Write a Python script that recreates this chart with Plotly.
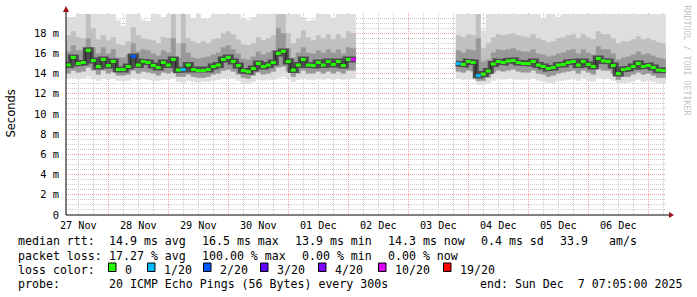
import plotly.graph_objects as go
import pandas as pd

# ---------------- data ----------------
SEG_STARTS = ["2025-11-27 08:00", "2025-12-03 20:00"]   # first sample of each segment
STEP_HOURS = 2
X_RANGE = ["2025-11-27 07:05", "2025-12-07 07:05"]
X_TICK_DATES = ["2025-11-27 12:00", "2025-11-28 12:00", "2025-11-29 12:00", "2025-11-30 12:00",
                "2025-12-01 12:00", "2025-12-02 12:00", "2025-12-03 12:00", "2025-12-04 12:00",
                "2025-12-05 12:00", "2025-12-06 12:00"]
X_TICK_LABELS = ["27 Nov", "28 Nov", "29 Nov", "30 Nov", "01 Dec", "02 Dec", "03 Dec",
                 "04 Dec", "05 Dec", "06 Dec"]

median_1 = [14.85, 15.6, 15.0, 15.1, 16.3, 15.3, 14.7, 15.4, 14.8, 15.2,
            14.4, 14.4, 14.7, 15.7, 14.85, 15.2, 15.1, 14.8, 14.6, 15.1,
            14.85, 15.4, 14.35, 14.4, 14.85, 14.4, 14.3, 14.3, 14.4, 14.7,
            14.85, 15.4, 15.6, 15.2, 14.8, 14.3, 14.2, 14.5, 15.0, 14.7,
            14.85, 15.1, 16.0, 16.2, 15.2, 14.35, 14.85, 15.4, 14.85, 14.8,
            15.1, 14.85, 15.2, 14.9, 15.2, 14.8, 15.4, 15.4]
loss_1 = [0] * 13 + [2] + [0] * 9 + [1] + [0] * 33 + [10]
max_1 = [19.6, 19.6, 19.9, 19.9, 19.9, 19.9, 19.9, 19.9, 19.9, 19.9,
         19.3, 18.7, 19.9, 19.9, 19.9, 19.3, 19.2, 19.9, 19.9, 19.6,
         19.9, 19.9, 19.9, 19.9, 19.9, 19.5, 19.9, 19.4, 19.4, 19.9,
         19.9, 19.9, 19.9, 19.9, 19.9, 19.4, 19.3, 19.6, 19.9, 19.9,
         19.9, 19.9, 19.9, 19.9, 19.9, 19.9, 19.9, 19.6, 19.2, 19.3,
         19.9, 19.9, 19.9, 19.5, 19.9, 19.9, 19.9, 19.9]
p90_1 = [17.8, 18.2, 17.6, 17.5, 19.9, 18.5, 17.4, 17.8, 17.3, 17.6,
         16.9, 16.8, 17.2, 18.6, 17.8, 17.5, 17.4, 17.3, 17.0, 17.6,
         17.5, 19.9, 17.0, 19.9, 17.5, 17.2, 17.0, 17.2, 17.0, 17.4,
         17.5, 18.0, 18.2, 17.9, 17.4, 16.9, 16.8, 17.0, 17.6, 17.3,
         17.5, 17.8, 19.9, 19.9, 18.0, 17.0, 17.5, 18.3, 17.6, 17.3,
         17.8, 17.5, 17.9, 17.4, 17.9, 17.5, 18.2, 18.0]
p75_1 = [16.2, 16.8, 16.3, 16.3, 17.5, 16.6, 16.0, 16.6, 16.0, 16.4,
         15.6, 15.6, 15.9, 17.0, 16.2, 16.4, 16.3, 16.0, 15.8, 16.3,
         16.1, 17.5, 15.6, 17.0, 16.1, 15.6, 15.5, 15.6, 15.7, 15.9,
         16.1, 16.6, 16.8, 16.4, 16.0, 15.5, 15.4, 15.7, 16.2, 15.9,
         16.1, 16.3, 18.5, 18.0, 16.5, 15.6, 16.1, 16.6, 16.1, 16.0,
         16.3, 16.1, 16.4, 16.1, 16.4, 16.0, 16.6, 16.5]
p10_1 = [14.0, 14.3, 14.1, 14.2, 14.6, 14.3, 13.9, 14.3, 14.0, 14.2,
         13.8, 13.8, 13.9, 14.3, 14.0, 14.2, 14.1, 14.0, 13.8, 14.1,
         14.0, 14.2, 13.7, 13.7, 13.9, 13.7, 13.6, 13.6, 13.7, 13.9,
         14.0, 14.3, 14.4, 14.2, 13.9, 13.6, 13.5, 13.8, 14.1, 13.9,
         14.0, 14.2, 14.6, 14.7, 14.2, 13.7, 14.0, 14.3, 14.0, 14.0,
         14.2, 14.0, 14.2, 14.0, 14.2, 14.0, 14.3, 14.3]
min_1 = [13.5, 13.6, 13.5, 13.5, 13.7, 13.5, 13.3, 13.5, 13.4, 13.5,
         13.3, 13.3, 13.3, 13.5, 13.4, 13.5, 13.4, 13.3, 13.3, 13.4,
         13.4, 13.5, 13.2, 13.1, 13.3, 13.2, 13.1, 13.2, 13.2, 13.3,
         13.4, 13.5, 13.6, 13.5, 13.3, 13.1, 13.0, 13.2, 13.4, 13.3,
         13.4, 13.4, 13.6, 13.7, 13.5, 13.2, 13.4, 13.5, 13.4, 13.4,
         13.5, 13.4, 13.5, 13.4, 13.5, 13.4, 13.5, 13.5]

median_2 = [15.0, 14.9, 15.2, 15.1, 13.8, 13.95, 14.25, 14.95, 15.2, 15.1,
            15.25, 15.3, 15.1, 15.0, 15.0, 15.2, 14.85, 14.7, 14.5, 14.6,
            14.85, 14.9, 15.1, 15.2, 14.85, 15.2, 14.9, 14.7, 15.5, 15.25,
            15.2, 14.8, 14.0, 14.4, 14.5, 14.7, 15.0, 14.7, 14.8, 14.6,
            14.35, 14.3]
loss_2 = [1, 0, 0, 0, 1] + [0] * 37
max_2 = [19.9, 19.9, 19.9, 19.9, 19.9, 18.3, 19.9, 19.9, 19.9, 19.9,
         19.9, 19.9, 19.9, 19.9, 19.9, 19.9, 19.9, 19.5, 19.9, 19.9,
         19.6, 19.9, 19.9, 19.9, 19.9, 19.9, 19.9, 19.9, 19.9, 19.9,
         19.9, 19.9, 19.9, 19.9, 19.9, 19.9, 19.9, 19.9, 19.9, 19.9,
         19.9, 19.9]
p90_2 = [17.8, 17.6, 17.9, 17.8, 19.9, 16.5, 17.0, 17.6, 17.9, 17.8,
         17.9, 18.0, 17.8, 17.7, 17.6, 17.9, 17.5, 17.3, 17.1, 17.2,
         17.5, 17.6, 17.8, 17.9, 17.5, 17.9, 17.6, 17.4, 18.2, 17.9,
         17.9, 17.5, 17.0, 17.2, 17.2, 17.4, 17.7, 17.4, 17.5, 17.3,
         17.1, 17.0]
p75_2 = [16.3, 16.1, 16.4, 16.3, 17.5, 15.2, 15.4, 16.1, 16.4, 16.3,
         16.4, 16.5, 16.3, 16.2, 16.2, 16.4, 16.0, 15.9, 15.7, 15.8,
         16.0, 16.1, 16.3, 16.4, 16.0, 16.4, 16.1, 15.9, 16.7, 16.4,
         16.4, 16.0, 15.4, 15.6, 15.7, 15.9, 16.2, 15.9, 16.0, 15.8,
         15.6, 15.5]
p10_2 = [14.2, 14.1, 14.3, 14.2, 13.3, 13.3, 13.6, 14.1, 14.3, 14.2,
         14.3, 14.4, 14.2, 14.1, 14.1, 14.3, 14.0, 13.9, 13.7, 13.8,
         14.0, 14.1, 14.2, 14.3, 14.0, 14.3, 14.1, 13.9, 14.5, 14.3,
         14.3, 14.0, 13.4, 13.7, 13.7, 13.9, 14.1, 13.9, 14.0, 13.8,
         13.6, 13.6]
min_2 = [13.5, 13.4, 13.5, 13.4, 12.9, 12.9, 13.0, 13.3, 13.5, 13.4,
         13.5, 13.5, 13.4, 13.4, 13.4, 13.5, 13.3, 13.2, 13.1, 13.1,
         13.3, 13.3, 13.4, 13.5, 13.3, 13.5, 13.3, 13.2, 13.6, 13.5,
         13.5, 13.3, 13.0, 13.1, 13.1, 13.2, 13.4, 13.2, 13.3, 13.2,
         13.1, 13.0]

Y_TICKS = [0, 2, 4, 6, 8, 10, 12, 14, 16, 18]
Y_TICK_TEXT = ["0", "2 m", "4 m", "6 m", "8 m", "10 m", "12 m", "14 m", "16 m", "18 m"]

LOSS_LEVELS = [0, 1, 2, 3, 4, 10, 19]
LOSS_LABELS = ["0", "1/20", "2/20", "3/20", "4/20", "10/20", "19/20"]
LOSS_COLORS = ["#26ff00", "#00b8ff", "#0059ff", "#5e00ff", "#7e00ff", "#dd00ff", "#ff0000"]

STATS = [
    ["median rtt:", "14.9 ms avg", "16.5 ms max", "13.9 ms min", "14.3 ms now", "0.4 ms sd", "33.9", "am/s"],
    ["packet loss:", "17.27 % avg", "100.00 % max", "0.00 % min", "0.00 % now"],
]
PROBE = ["probe:", "20 ICMP Echo Pings (56 Bytes) every 300s", "end: Sun Dec  7 07:05:00 2025"]

# ---------------- layout constants ----------------
W, H = 697, 297
L, R, T, B = 66, 31, 13, 82
PW, PH = W - L - R, H - T - B
MONO = "DejaVu Sans Mono"


def px(xp):
    return (xp - L) / PW


def py(yp):
    return (T + PH - yp) / PH


segments = [
    (SEG_STARTS[0], median_1, loss_1, max_1, p90_1, p75_1, p10_1, min_1),
    (SEG_STARTS[1], median_2, loss_2, max_2, p90_2, p75_2, p10_2, min_2),
]

half = pd.Timedelta(hours=STEP_HOURS / 2)
fig = go.Figure()


def step_coords(times, vals):
    xs, ys = [], []
    for t, v in zip(times, vals):
        xs += [t - half, t + half]
        ys += [v, v]
    return xs, ys


def band(times, lo, hi, color):
    xh, yh = step_coords(times, hi)
    xl, yl = step_coords(times, lo)
    fig.add_trace(go.Scatter(x=xh + xl[::-1], y=yh + yl[::-1], fill="toself",
                             fillcolor=color, line=dict(width=0), mode="lines",
                             hoverinfo="skip", showlegend=False))


for start, med, loss, mx, p90, p75, p10, mn in segments:
    times = list(pd.date_range(start, periods=len(med), freq=f"{STEP_HOURS}h"))
    band(times, mn, mx, "#dedede")
    band(times, p10, p90, "#c0c0c0")
    band(times, p10, p75, "#999999")
    xs, ys = step_coords(times, med)
    fig.add_trace(go.Scatter(x=xs, y=ys, mode="lines", line=dict(color="#4c4c4c", width=6),
                             hoverinfo="skip", showlegend=False))
    fig.add_trace(go.Scatter(x=xs, y=ys, mode="lines", line=dict(color="#202020", width=1),
                             hoverinfo="skip", showlegend=False))
    for lvl, col in zip(LOSS_LEVELS, LOSS_COLORS):
        bx, by = [], []
        for t, v, l in zip(times, med, loss):
            if l == lvl:
                bx += [t - half, t + half, None]
                by += [v, v, None]
        if bx:
            fig.add_trace(go.Scatter(x=bx, y=by, mode="lines", line=dict(color=col, width=3),
                                     hoverinfo="skip", showlegend=False))

# helper trace so the label axis is drawn
fig.add_trace(go.Scatter(x=X_RANGE, y=[None, None], xaxis="x2", yaxis="y", mode="lines",
                         hoverinfo="skip", showlegend=False))

grid_red = "#f2a0a0"
grid_gray = "#c8c8c8"

fig.update_layout(
    width=W, height=H, autosize=False,
    margin=dict(l=L, r=R, t=T, b=B, pad=0),
    paper_bgcolor="white", plot_bgcolor="white",
    showlegend=False,
    xaxis=dict(
        type="date", range=X_RANGE, tick0="2025-11-27", dtick=86400000,
        ticks="", showticklabels=False,
        showgrid=True, gridcolor=grid_red, griddash="1px,1px", gridwidth=1,
        minor=dict(dtick=6 * 3600000, showgrid=True, gridcolor=grid_gray,
                   griddash="1px,1px", gridwidth=1),
        showline=False, zeroline=False,
    ),
    xaxis2=dict(
        type="date", range=X_RANGE, overlaying="x", side="bottom", anchor="y",
        tickmode="array", tickvals=X_TICK_DATES, ticktext=X_TICK_LABELS, ticks="",
        showgrid=False, zeroline=False, showline=False,
        tickfont=dict(family=MONO, size=10.2, color="#000"), ticklabelstandoff=3,
    ),
    yaxis=dict(
        range=[0, 20], tickvals=Y_TICKS, ticktext=Y_TICK_TEXT, ticks="",
        showgrid=True, gridcolor=grid_red, griddash="1px,1px", gridwidth=1,
        minor=dict(dtick=0.5, showgrid=True, gridcolor=grid_gray,
                   griddash="1px,1px", gridwidth=1),
        tickfont=dict(family=MONO, size=10.4, color="#000"),
        showline=False, zeroline=False, ticklabelstandoff=6,
    ),
)

shapes = []
# axis lines with arrows
shapes.append(dict(type="line", xref="paper", yref="paper", x0=px(66), x1=px(669),
                   y0=py(215), y1=py(215), line=dict(color="#000", width=1)))
shapes.append(dict(type="line", xref="paper", yref="paper", x0=px(66), x1=px(66),
                   y0=py(215), y1=py(10), line=dict(color="#000", width=1)))
shapes.append(dict(type="path", xref="paper", yref="paper",
                   path=f"M {px(669)} {py(212)} L {px(674)} {py(215)} L {px(669)} {py(218)} Z",
                   fillcolor="#a01010", line=dict(color="#a01010", width=0)))
shapes.append(dict(type="path", xref="paper", yref="paper",
                   path=f"M {px(63)} {py(12)} L {px(66)} {py(6)} L {px(69)} {py(12)} Z",
                   fillcolor="#a01010", line=dict(color="#a01010", width=0)))

ann = []
ann.append(dict(text="Seconds", x=px(10.5), y=py(114), xref="paper", yref="paper",
                textangle=-90, showarrow=False, xanchor="center", yanchor="middle",
                font=dict(family="DejaVu Sans", size=11.5, color="#000")))
ann.append(dict(text="RRDTOOL / TOBI OETIKER", x=px(686.5), y=py(60), xref="paper", yref="paper",
                textangle=90, showarrow=False, xanchor="center", yanchor="middle",
                font=dict(family=MONO, size=8.3, color="#c4c4c4")))


def txt(s, xp, yp):
    ann.append(dict(text=s.replace(" ", "\u00a0"), x=px(xp), y=py(yp), xref="paper", yref="paper",
                    showarrow=False, xanchor="left", yanchor="middle",
                    font=dict(family=MONO, size=11.6, color="#000")))


row_y = [241, 256, 269.5, 283.5]
for s, xp in zip(STATS[0], [16, 107, 200, 293, 386, 479, 558, 607]):
    txt(s, xp, row_y[0])
for s, xp in zip(STATS[1], [16, 107, 200, 300, 386]):
    txt(s, xp, row_y[1])
txt("loss color:", 16, row_y[2])
sq_x = [108, 147, 203, 260, 318, 378, 443]
for lab, col, xp in zip(LOSS_LABELS, LOSS_COLORS, sq_x):
    shapes.append(dict(type="rect", xref="paper", yref="paper",
                       x0=px(xp + 0.5), x1=px(xp + 8), y0=py(271.5), y1=py(263),
                       fillcolor=col, line=dict(color="#000", width=1)))
    txt(lab, xp + 15, row_y[2])
for s, xp in zip(PROBE, [16, 107, 478]):
    txt(s, xp, row_y[3])

fig.update_layout(shapes=shapes, annotations=ann)
fig.write_html("out.html")
